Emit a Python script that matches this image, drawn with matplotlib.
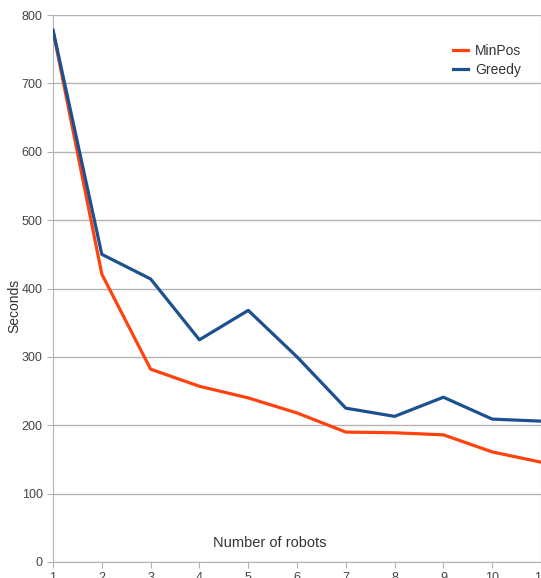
import numpy as np
import matplotlib.pyplot as plt

plt.rcParams['font.family'] = ['Liberation Sans', 'DejaVu Sans']

robots = [1, 2, 3, 4, 5, 6, 7, 8, 9, 10, 11]
minpos = [777, 421, 282, 257, 240, 218, 190, 189, 186, 161, 146]
greedy = [778, 450, 414, 325, 368, 300, 225, 213, 241, 209, 206]

fig = plt.figure(figsize=(5.41, 5.78), dpi=100)
ax = fig.add_axes([0.098, 0.0277, 0.902, 0.9463])

ax.plot(robots, minpos, color='#ff420e', lw=2.3, label='MinPos', zorder=3)
ax.plot(robots, greedy, color='#1d5090', lw=2.3, label='Greedy', zorder=3)

ax.set_xlim(1, 11)
ax.set_ylim(0, 800)
ax.set_yticks(np.arange(0, 801, 100))
ax.set_xticks(robots)
ax.grid(axis='y', color='#b3b3b3', lw=1)
ax.set_axisbelow(True)
for s in ax.spines.values():
    s.set_color('#b3b3b3')
ax.spines['top'].set_visible(False)
ax.tick_params(colors='#b3b3b3', labelcolor='#444444', labelsize=9, length=4)

ax.set_ylabel('Seconds', fontsize=10, color='#333333')
ax.yaxis.set_label_coords(-0.064, 0.468)
ax.text(0.445, 0.022, 'Number of robots', transform=ax.transAxes,
        ha='center', va='bottom', fontsize=10.5, color='#333333')

leg = ax.legend(loc='upper right', bbox_to_anchor=(0.985, 0.97), frameon=False,
                fontsize=10, handlelength=1.1, handletextpad=0.5, labelspacing=0.35)
for t in leg.get_texts():
    t.set_color('#333333')

fig.savefig('out.png', dpi=100)
